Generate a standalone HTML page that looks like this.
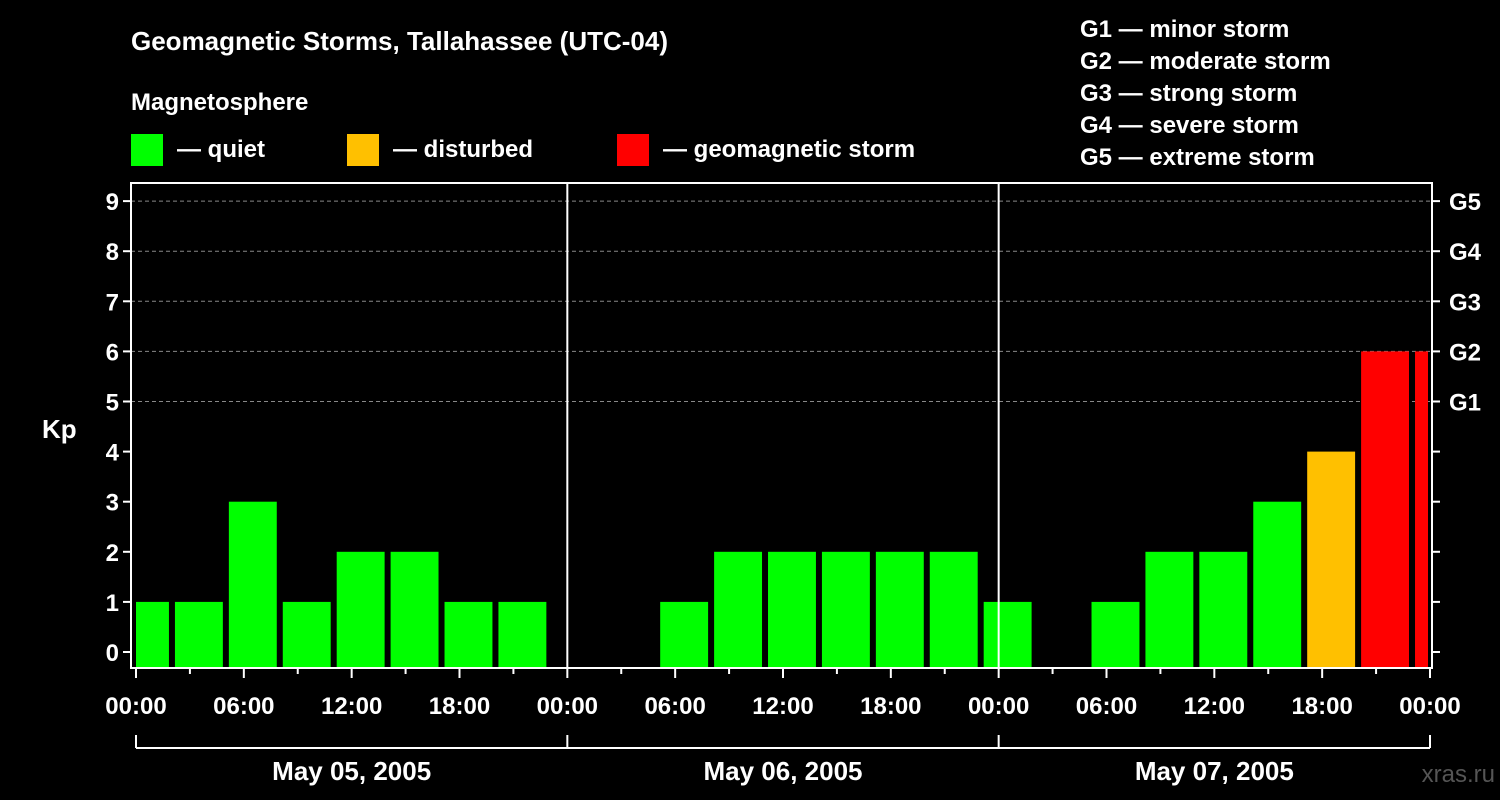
<!DOCTYPE html>
<html><head><meta charset="utf-8"><style>
body{margin:0;background:#000;width:1500px;height:800px;overflow:hidden}
svg{display:block;font-family:"Liberation Sans",Arial,sans-serif;font-weight:bold}
</style></head><body>
<svg id="c" width="1500" height="800">
<text x="131" y="50" font-size="26" fill="#fff">Geomagnetic Storms, Tallahassee (UTC-04)</text>
<text x="131" y="110" font-size="24" fill="#fff">Magnetosphere</text>
<g><rect x="131" y="134" width="32" height="32" fill="#00ff00"/><text x="177" y="157" font-size="24" fill="#fff">— quiet</text></g>
<g><rect x="347" y="134" width="32" height="32" fill="#ffc000"/><text x="393" y="157" font-size="24" fill="#fff">— disturbed</text></g>
<g><rect x="617" y="134" width="32" height="32" fill="#ff0000"/><text x="663" y="157" font-size="24" fill="#fff">— geomagnetic storm</text></g>
<g font-size="24" fill="#fff">
<text x="1080" y="37">G1 — minor storm</text><text x="1080" y="69">G2 — moderate storm</text><text x="1080" y="101">G3 — strong storm</text><text x="1080" y="133">G4 — severe storm</text><text x="1080" y="165">G5 — extreme storm</text></g>
<text x="42" y="438" font-size="26" fill="#fff">Kp</text>
<text x="1495" y="782" font-size="24" fill="#555" text-anchor="end" font-weight="normal">xras.ru</text>
<g id="plot"></g>
</svg>
<script>
const days=["May 05, 2005","May 06, 2005","May 07, 2005"];
const kp=[1,1,3,1,2,2,1,1, 0,0,1,2,2,2,2,2, 1,0,1,2,2,3,4,6,6];
const gLabels=["G1","G2","G3","G4","G5"];
const hourLabels=["00:00","06:00","12:00","18:00"];
const NS="http://www.w3.org/2000/svg",P=document.getElementById('plot');
const L=131,R=1432,T=183,B=668,X0=136,DAY=431.33;
const y=v=>652-v*50.1, x=h=>X0+h*DAY/24;
function mk(t,a,parent){const e=document.createElementNS(NS,t);for(const k in a)e.setAttribute(k,a[k]);(parent||P).appendChild(e);return e;}
for(let v=5;v<=9;v++){const l=mk('line',{x1:L,x2:R,y1:y(v),y2:y(v),stroke:'#888','stroke-dasharray':'4,3'});

}
kp.forEach((v,i)=>{if(v<=0)return;let a=x(i*3-1)+3,b=x(i*3+2)-3;a=Math.max(a,X0);b=Math.min(b,R-4);
const r=mk('rect',{x:a,y:y(v),width:b-a,height:B-y(v),fill:v>=5?'#ff0000':v>=4?'#ffc000':'#00ff00'});

});
const fr=mk('rect',{x:L,y:T,width:R-L,height:B-T,fill:'none',stroke:'#fff','stroke-width':2});


for(let d=1;d<days.length;d++)mk('line',{x1:x(24*d),x2:x(24*d),y1:T,y2:B,stroke:'#fff','stroke-width':2});
for(let v=0;v<=9;v++){mk('line',{x1:L-8,x2:L,y1:y(v),y2:y(v),stroke:'#fff',"stroke-width":2});mk('line',{x1:R,x2:R+8,y1:y(v),y2:y(v),stroke:'#fff',"stroke-width":2});
const t=mk('text',{x:L-12,y:y(v)+9,'font-size':24,fill:'#fff','text-anchor':'end'});t.textContent=v;

}
gLabels.forEach((g,i)=>{const t=mk('text',{x:1449,y:y(i+5)+9,'font-size':24,fill:'#fff'});t.textContent=g;

});
for(let h=0;h<=24*days.length;h+=3){mk('line',{x1:x(h),x2:x(h),y1:B,y2:B+(h%6?6:10),stroke:'#fff',"stroke-width":2});
if(h%6==0){const t=mk('text',{x:x(h),y:714,'font-size':24,fill:'#fff','text-anchor':'middle'});t.textContent=hourLabels[(h/6)%4];

}}
mk('line',{x1:x(0),x2:x(24*days.length),y1:748,y2:748,stroke:'#fff',"stroke-width":2});
for(let d=0;d<=days.length;d++)mk('line',{x1:x(24*d),x2:x(24*d),y1:735,y2:748,stroke:'#fff',"stroke-width":2});
days.forEach((d,i)=>{const t=mk('text',{x:x(24*i+12),y:780,'font-size':26,fill:'#fff','text-anchor':'middle'});t.textContent=d;

});
</script>
</body></html>
